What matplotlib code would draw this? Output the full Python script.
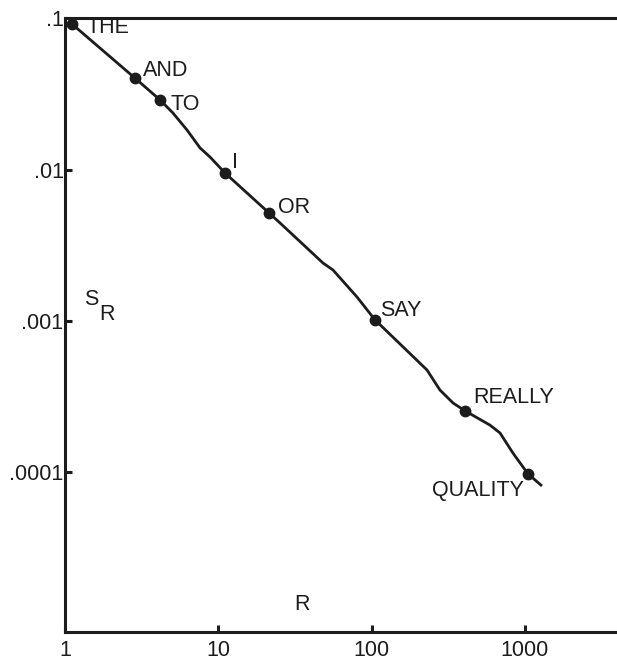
import matplotlib
matplotlib.use('Agg')
from matplotlib import pyplot as plt

plt.rcParams['font.family'] = ['Liberation Sans', 'DejaVu Sans']

# rank / relative frequency of the traced curve
curve_rank = [1.11, 2.86, 4.17, 5.06, 6.25, 7.60, 8.83, 11.06, 21.4, 25.3, 48.2, 56.0,
              80.3, 105, 230, 279, 340, 406, 592, 688, 836, 1047, 1293]
curve_freq = [0.0918, 0.0403, 0.0289, 0.0237, 0.0183, 0.01393, 0.01213, 0.00951,
              0.00518, 0.00444, 0.002416, 0.002173, 0.001441, 0.00102, 0.000474,
              0.00035, 0.000287, 0.000255, 0.000205, 0.000182, 0.000134, 0.0000977,
              0.0000812]

# labelled words on the curve
words = ['THE', 'AND', 'TO', 'I', 'OR', 'SAY', 'REALLY', 'QUALITY']
word_rank = [1.11, 2.86, 4.17, 11.06, 21.4, 105, 406, 1047]
word_freq = [0.0918, 0.0403, 0.0289, 0.00951, 0.00518, 0.00102, 0.000255, 0.0000977]

x_ticks = [1, 10, 100, 1000]
x_labels = ['1', '10', '100', '1000']
y_ticks = [0.1, 0.01, 0.001, 0.0001]
y_labels = ['.1', '.01', '.001', '.0001']

ink = '#1c1c1c'
fs = 15.5

fig = plt.figure(figsize=(6.17, 6.67), dpi=100)
ax = fig.add_axes([0.1053, 0.0525, 0.8947, 0.920])
ax.set_xscale('log')
ax.set_yscale('log')
ax.set_xlim(1, 3990)
ax.set_ylim(8.8e-6, 0.1)

ax.plot(curve_rank, curve_freq, color=ink, lw=2.0, solid_capstyle='butt')
ax.plot(word_rank, word_freq, 'o', color=ink, ms=7.5)

# label offsets in pixels from each dot
offsets = [(15, -4), (8, 8), (10, -5), (7, 10), (9, 5), (5, 9), (8, 13), (-4, -17)]
aligns = ['left'] * 7 + ['right']
for w, xr, yf, off, ha in zip(words, word_rank, word_freq, offsets, aligns):
    ax.annotate(w, (xr, yf), xytext=off, textcoords='offset pixels',
                ha=ha, va='center', fontsize=fs, color=ink)

ax.set_xticks(x_ticks)
ax.set_xticklabels(x_labels)
ax.set_yticks(y_ticks)
ax.set_yticklabels(y_labels)
ax.minorticks_off()
ax.tick_params(axis='both', direction='in', length=5, width=2.2, colors=ink,
               labelsize=fs, labelcolor=ink)
ax.tick_params(axis='x', pad=6)
ax.tick_params(axis='y', pad=1)

for side in ['left', 'top', 'bottom']:
    ax.spines[side].set_linewidth(2.2)
    ax.spines[side].set_color(ink)
ax.spines['right'].set_visible(False)

# axis names drawn inside the frame
ax.text(0.035, 0.542, 'S', transform=ax.transAxes, fontsize=fs, color=ink,
        ha='left', va='center')
ax.text(0.063, 0.517, 'R', transform=ax.transAxes, fontsize=fs, color=ink,
        ha='left', va='center')
ax.text(0.43, 0.045, 'R', transform=ax.transAxes, fontsize=fs, color=ink,
        ha='center', va='center')

fig.savefig('out.png', dpi=100, facecolor='white')
